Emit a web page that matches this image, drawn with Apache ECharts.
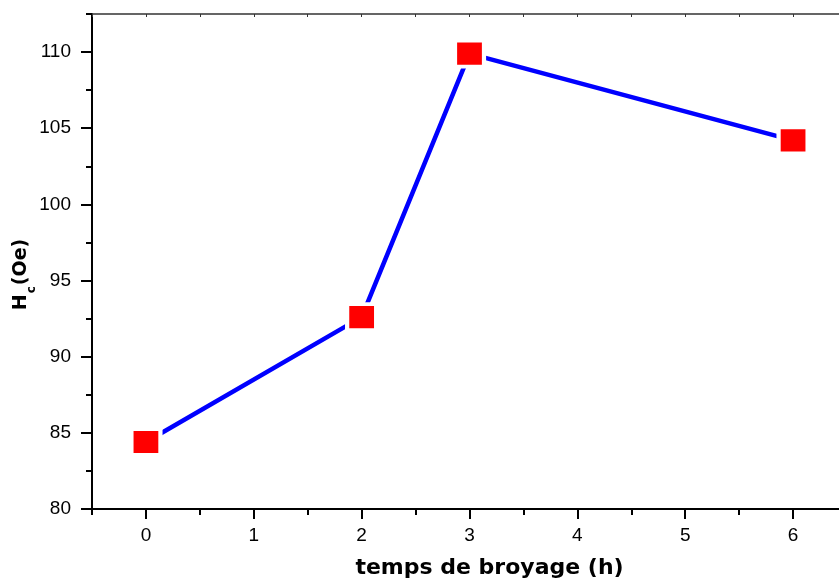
<!DOCTYPE html>
<html>
<head>
<meta charset="utf-8">
<script src="https://cdn.jsdelivr.net/npm/echarts@6/dist/echarts.min.js"></script>
<style>
  html, body { margin: 0; padding: 0; background: #fff; }
  #chart { width: 839px; height: 580px; }
</style>
</head>
<body>
<div id="chart"></div>
<script>
// Coercivity versus milling time
const hours = [0, 2, 3, 6];
const hcOe = [84.4, 92.6, 109.9, 104.2];

const xMajorTicks = [0, 1, 2, 3, 4, 5, 6];
const xMinorTicks = [-0.5, 0.5, 1.5, 2.5, 3.5, 4.5, 5.5];
const xTopTicks = [-0.5, 0, 0.5, 1, 1.5, 2, 2.5, 3, 3.5, 4, 4.5, 5, 5.5, 6];
const yMajorTicks = [80, 85, 90, 95, 100, 105, 110];
const yMinorTicks = [82.5, 87.5, 92.5, 97.5, 102.5, 107.5, 112.5];

const xTitle = 'temps de broyage (h)';

const chart = echarts.init(document.getElementById('chart'), null, { renderer: 'canvas' });

const labelFont = { fontFamily: '"Liberation Sans", Arial, sans-serif', fontSize: 19, color: '#000' };
const blackLine = { color: '#000', width: 2 };

chart.setOption({
  animation: false,
  backgroundColor: '#fff',
  grid: { left: 92, top: 14, bottom: 71, right: -8, containLabel: false, outerBoundsMode: 'none' },
  xAxis: [
    {
      type: 'value', position: 'bottom', min: -0.5, max: 6.5,
      axisLine: { show: true, onZero: false, lineStyle: blackLine },
      axisTick: { show: true, inside: false, length: 10, lineStyle: blackLine, customValues: xMajorTicks },
      axisLabel: Object.assign({ margin: 17, customValues: xMajorTicks }, labelFont),
      splitLine: { show: false },
      name: xTitle,
      nameLocation: 'middle',
      nameGap: 48,
      nameMoveOverlap: false,
      nameTextStyle: {
        fontFamily: '"DejaVu Sans", sans-serif', fontWeight: 'bold', fontSize: 22, color: '#000',
        padding: [0, 0, 0, 40]
      }
    },
    {
      type: 'value', position: 'bottom', min: -0.5, max: 6.5,
      axisLine: { show: false, onZero: false },
      axisTick: { show: true, inside: false, length: 6, lineStyle: blackLine, customValues: xMinorTicks },
      axisLabel: { show: false },
      splitLine: { show: false }
    },
    {
      type: 'value', position: 'top', min: -0.5, max: 6.5,
      axisLine: { show: true, onZero: false, lineStyle: { color: '#333', width: 1.5 } },
      axisTick: { show: true, inside: true, length: 3, lineStyle: { color: '#333', width: 1 }, customValues: xTopTicks },
      axisLabel: { show: false },
      splitLine: { show: false }
    }
  ],
  yAxis: [
    {
      type: 'value', position: 'left', min: 80, max: 112.5,
      axisLine: { show: true, onZero: false, lineStyle: blackLine },
      axisTick: { show: true, inside: false, length: 11, lineStyle: blackLine, customValues: yMajorTicks },
      axisLabel: Object.assign({ margin: 21, customValues: yMajorTicks }, labelFont),
      splitLine: { show: false },
      name: '{a|H}{b|c}{a|(Oe)}',
      nameLocation: 'middle',
      nameRotate: 90,
      nameGap: 54,
      nameMoveOverlap: false,
      nameTextStyle: {
        padding: [0, 26, 0, 0],
        rich: {
          a: { fontFamily: '"DejaVu Sans", sans-serif', fontWeight: 'bold', fontSize: 19, color: '#000', lineHeight: 26, verticalAlign: 'top' },
          b: { fontFamily: '"DejaVu Sans", sans-serif', fontWeight: 'bold', fontSize: 12, color: '#000', lineHeight: 12, verticalAlign: 'bottom', padding: [0, 1, 0, 1] }
        }
      }
    },
    {
      type: 'value', position: 'left', min: 80, max: 112.5,
      axisLine: { show: false, onZero: false },
      axisTick: { show: true, inside: false, length: 6, lineStyle: blackLine, customValues: yMinorTicks },
      axisLabel: { show: false },
      splitLine: { show: false }
    }
  ],
  series: [
    {
      type: 'line',
      xAxisIndex: 0,
      yAxisIndex: 0,
      data: hours.map((h, i) => [h, hcOe[i]]),
      lineStyle: { color: '#0000ff', width: 4.5, cap: 'round' },
      symbol: 'rect',
      symbolSize: [29, 26],
      itemStyle: { color: '#ff0000', borderColor: '#ffffff', borderWidth: 4 },
      emphasis: { disabled: true },
      clip: false,
      z: 3
    }
  ]
});
</script>
</body>
</html>
